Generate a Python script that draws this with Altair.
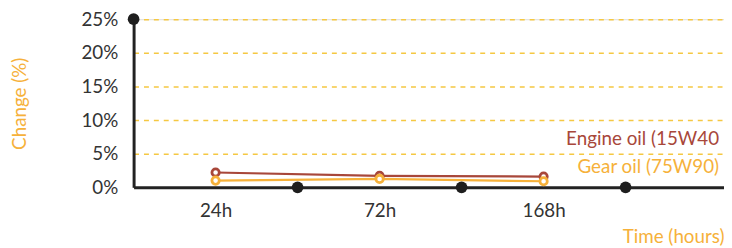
import altair as alt
import pandas as pd

categories = ["24h", "72h", "168h"]
engine_oil = [2.2, 1.7, 1.6]
gear_oil = [1.0, 1.25, 0.9]
series_names = ["Engine oil (15W40", "Gear oil (75W90)"]
label_y = [7.2, 3.0]
dot_x = [1, 2, 3]
dot_y = [0, 0, 0]
top_dot = [0, 25]
y_ticks = [0, 5, 10, 15, 20, 25]

ENGINE = "#a8473a"
GEAR = "#f6b13a"
FONT = "Lato"

rows = []
for i, c in enumerate(categories):
    rows.append({"pos": i + 0.5, "cat": c, "value": engine_oil[i], "series": series_names[0]})
    rows.append({"pos": i + 0.5, "cat": c, "value": gear_oil[i], "series": series_names[1]})
df = pd.DataFrame(rows)

dots = pd.DataFrame({"pos": dot_x + [top_dot[0]], "value": dot_y + [top_dot[1]]})
labels = pd.DataFrame({"pos": [3.57, 3.57], "value": label_y, "series": series_names})

xscale = alt.Scale(domain=[0, 3.6], nice=False, zero=False)
yscale = alt.Scale(domain=[0, 25], nice=False)
color_scale = alt.Scale(domain=series_names, range=[ENGINE, GEAR])

label_expr = "datum.value == 0.5 ? '24h' : datum.value == 1.5 ? '72h' : datum.value == 2.5 ? '168h' : ''"

x_axis = alt.Axis(values=[0.5, 1.5, 2.5], labelExpr=label_expr, grid=False, ticks=False,
                  domain=True, domainColor="#222222", domainWidth=3, labelOverlap=False,
                  labelFont=FONT, labelFontSize=19, labelColor="#333333", labelPadding=14,
                  title="Time (hours)", titleFont=FONT, titleFontSize=19, titleFontWeight="normal",
                  titleColor=GEAR, titleAnchor="end", titleAlign="right", titlePadding=8)
y_axis = alt.Axis(values=y_ticks, labelExpr="datum.value + '%'", grid=True, gridColor="#f5c842",
                  gridDash=[5, 5], gridWidth=1.5, ticks=False, labelOverlap=False,
                  domain=True, domainColor="#222222", domainWidth=3,
                  labelFont=FONT, labelFontSize=19, labelColor="#333333", labelPadding=16,
                  title="Change (%)", titleFont=FONT, titleFontSize=19, titleFontWeight="normal",
                  titleColor=GEAR, titlePadding=52)

X = alt.X("pos:Q", scale=xscale, axis=x_axis)
Y = alt.Y("value:Q", scale=yscale, axis=y_axis)
C = alt.Color("series:N", scale=color_scale, legend=None)

base = alt.Chart(df)
lines = base.mark_line(strokeWidth=2.2).encode(x=X, y=Y, color=C)
points = base.mark_point(filled=False, fill="white", size=55, strokeWidth=2.8, opacity=1).encode(
    x=X, y=Y, color=C)
black = alt.Chart(dots).mark_circle(size=140, color="#1e1e1e", opacity=1).encode(x=X, y=Y)
texts = alt.Chart(labels).mark_text(align="right", baseline="middle", font=FONT, fontSize=19).encode(
    x=X, y=Y, color=C, text="series:N")

chart = alt.layer(lines, points, black, texts).properties(
    width=597, height=170,
    autosize=alt.AutoSizeParams(type="none"),
    padding={"left": 127, "top": 10, "right": 0, "bottom": 59},
).configure_view(stroke=None).configure(background="white")

chart.save("out.html", embed_options={"renderer": "svg", "actions": False})
